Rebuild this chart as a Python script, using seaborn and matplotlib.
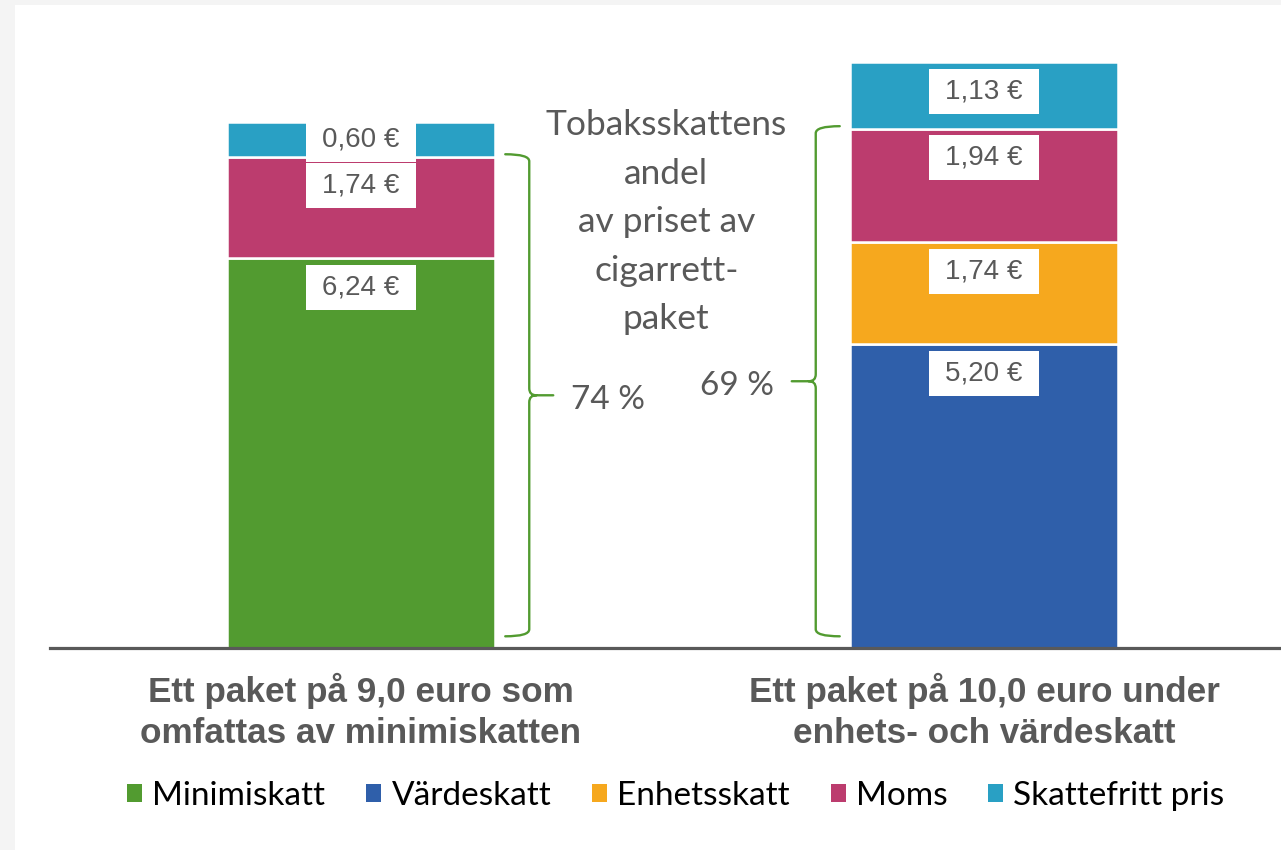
import matplotlib
matplotlib.use("Agg")
import matplotlib.pyplot as plt
from matplotlib.patches import Rectangle, Patch, PathPatch
from matplotlib.path import Path
import numpy as np
import seaborn as sns

# --- data ---
categories = ["Ett paket på 9,0 euro som\nomfattas av minimiskatten",
              "Ett paket på 10,0 euro under\nenhets- och värdeskatt"]
components = ["Minimiskatt", "Värdeskatt", "Enhetsskatt", "Moms", "Skattefritt pris"]
colors = ["#529b30", "#2f5faa", "#f6a81e", "#bc3c6e", "#29a0c4"]

# bar heights as drawn (euro)
minimiskatt = [6.66, 0.0]
vardeskatt = [0.0, 5.20]
enhetsskatt = [0.0, 1.74]
moms = [1.74, 1.94]
skattefritt = [0.60, 1.13]

# text in the white label boxes
minimiskatt_lbl = ["6,24 €", ""]
vardeskatt_lbl = ["", "5,20 €"]
enhetsskatt_lbl = ["", "1,74 €"]
moms_lbl = ["1,74 €", "1,94 €"]
skattefritt_lbl = ["0,60 €", "1,13 €"]

tax_share = ["74 %", "69 %"]
note = "Tobaksskattens\nandel\nav priset av\ncigarrett-\npaket"

GRAY = "#595959"
GREEN = "#529b30"

# layout in pixels (figure is 1281 x 850)
W, H = 1281, 850
PX_X = 623.0   # pixels per category step
PX_Y = 58.5    # pixels per euro
BAR_W = 0.431

sns.set_theme(style="white")
plt.rcParams["font.family"] = ["Liberation Sans", "DejaVu Sans"]

fig = plt.figure(figsize=(W / 100, H / 100), dpi=100, facecolor="#f4f4f4")
fig.add_artist(Rectangle((15 / W, 0), 1, (H - 5) / H, transform=fig.transFigure,
                         facecolor="white", edgecolor="none", zorder=-10))
ax = fig.add_axes([50 / W, (H - 648) / H, 1231 / W, 638 / H])
ax.set_facecolor("none")

series = [minimiskatt, vardeskatt, enhetsskatt, moms, skattefritt]
series_lbl = [minimiskatt_lbl, vardeskatt_lbl, enhetsskatt_lbl, moms_lbl, skattefritt_lbl]
cats = np.array(categories)

bottom = np.zeros(len(categories))
box_w = 110 / PX_X
box_h = 45 / PX_Y
for comp, vals, lbls, col in zip(components, series, series_lbl, colors):
    vals = np.array(vals)
    m = vals > 0
    sns.barplot(x=cats[m], y=vals[m], order=categories, color=col, saturation=1,
                width=BAR_W, bottom=bottom[m], edgecolor="white", linewidth=1.8,
                ax=ax)
    # white label box near the top of each segment
    for i in np.where(m)[0]:
        top = bottom[i] + vals[i]
        yc = max(top - 0.5, bottom[i] + vals[i] / 2)
        ax.add_patch(Rectangle((i - box_w / 2, yc - box_h / 2), box_w, box_h,
                               facecolor="white", edgecolor="none", zorder=3))
        ax.text(i, yc, lbls[i], ha="center", va="center", fontsize=20,
                color=GRAY, zorder=4)
    bottom = bottom + vals


def brace(ax, x_line, x_end, x_tip, y_bot, y_top, d):
    rx = 7 / PX_X
    ry = 7 / PX_Y
    y_mid = (y_bot + y_top) / 2
    verts = [(x_end, y_top), (x_line, y_top), (x_line, y_top - ry),
             (x_line, y_mid + ry), (x_line, y_mid), (x_line + d * rx, y_mid),
             (x_tip, y_mid),
             (x_line + d * rx, y_mid), (x_line, y_mid), (x_line, y_mid - ry),
             (x_line, y_bot + ry), (x_line, y_bot), (x_end, y_bot)]
    codes = [Path.MOVETO, Path.CURVE3, Path.CURVE3,
             Path.LINETO, Path.CURVE3, Path.CURVE3,
             Path.LINETO,
             Path.MOVETO, Path.CURVE3, Path.CURVE3,
             Path.LINETO, Path.CURVE3, Path.CURVE3]
    ax.add_patch(PathPatch(Path(verts, codes), fill=False, edgecolor=GREEN,
                           lw=1.7, capstyle="round", zorder=5))
    return y_mid


# braces around the tax part of each bar (all but Skattefritt pris)
tax_tops = bottom - np.array(skattefritt)
for i, d in enumerate([1, -1]):
    x_line = i + d * (BAR_W / 2 + 34 / PX_X)
    x_end = x_line - d * 24 / PX_X
    x_tip = x_line + d * 24 / PX_X
    y_mid = brace(ax, x_line, x_end, x_tip, 0.2, tax_tops[i] + 0.04, d)
    ax.text(x_tip + d * 18 / PX_X, y_mid - 0.08, tax_share[i],
            ha="left" if d > 0 else "right", va="center", fontsize=24,
            color=GRAY, family=["Lato", "DejaVu Sans"])

ax.text(0.49, 7.28, note, ha="center", va="center", fontsize=25.5, color=GRAY,
        linespacing=1.63, family=["Lato", "DejaVu Sans"])

ax.set_xlim(-(361 - 50) / PX_X, 1 + (1281 - 984) / PX_X)
ax.set_ylim(0, 638 / PX_Y)
ax.set_yticks([])
ax.set_xticks(range(len(categories)))
ax.set_xticklabels(categories, fontweight="bold", fontsize=25.3, color=GRAY,
                   linespacing=1.3)
ax.tick_params(axis="x", length=0, pad=18)
ax.set_xlabel("")
ax.set_ylabel("")
for s in ["top", "left", "right"]:
    ax.spines[s].set_visible(False)
ax.spines["bottom"].set_color(GRAY)
ax.spines["bottom"].set_linewidth(2.3)

handles = [Patch(facecolor=c, edgecolor="none", label=n) for n, c in zip(components, colors)]
fig.legend(handles=handles, loc="center", bbox_to_anchor=(676 / W, 1 - 796 / H),
           ncol=5, frameon=False, prop={"family": ["Lato", "DejaVu Sans"], "size": 24},
           handlelength=0.45, handleheight=0.45, handletextpad=0.3,
           columnspacing=1.23, labelcolor="black")

fig.savefig("out.png", dpi=100, facecolor=fig.get_facecolor())
